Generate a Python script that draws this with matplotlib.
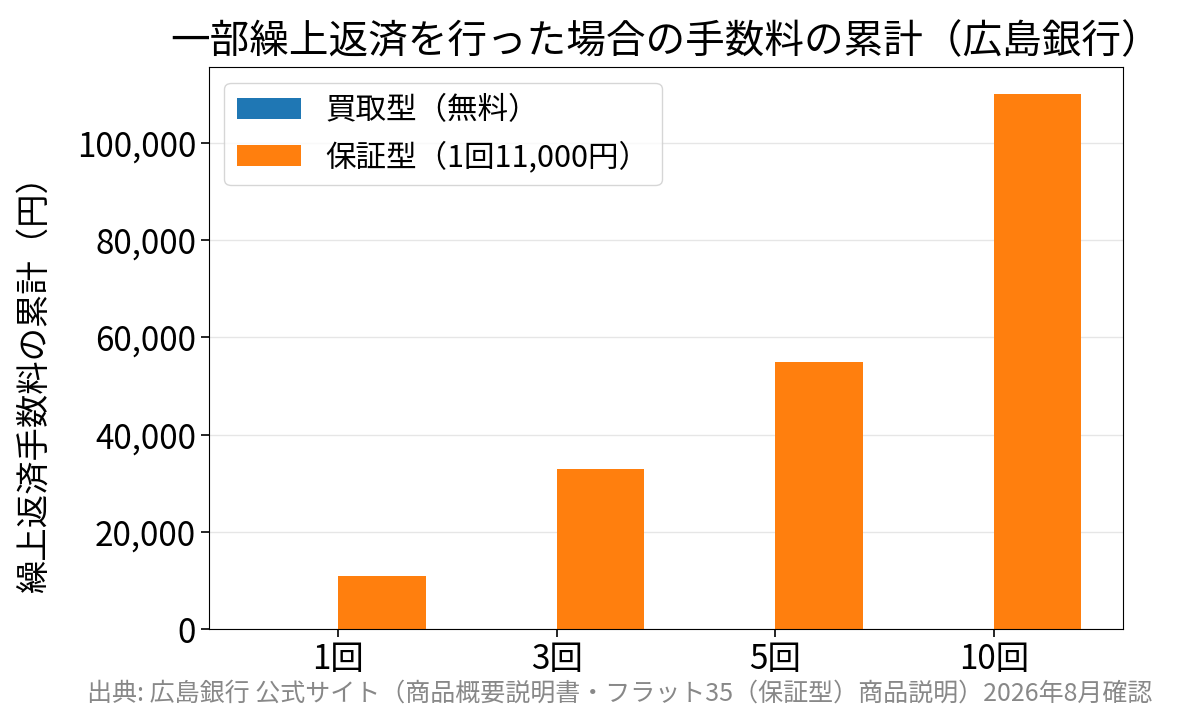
import numpy as np
import matplotlib
matplotlib.use("Agg")
import matplotlib.pyplot as plt
from matplotlib.ticker import FuncFormatter

plt.rcParams['font.family'] = ['Noto Sans CJK JP', 'DejaVu Sans']

# data
categories = ['1回', '3回', '5回', '10回']
kaitori_fee = [0, 0, 0, 0]
hosho_fee = [11000, 33000, 55000, 110000]
legend_labels = ['買取型（無料）', '保証型（1回11,000円）']

x = np.arange(len(categories))
width = 0.4

fig, ax = plt.subplots(figsize=(11.82, 7.25), dpi=100)
ax.bar(x - width / 2, kaitori_fee, width, color='#1f77b4', label=legend_labels[0])
ax.bar(x + width / 2, hosho_fee, width, color='#ff7f0e', label=legend_labels[1])

ax.set_xticks(x)
ax.set_xticklabels(categories)
ax.yaxis.set_major_formatter(FuncFormatter(lambda v, p: f'{int(v):,}'))
ax.tick_params(axis='both', labelsize=24, width=1.2, length=6)
ax.set_ylabel('繰上返済手数料の累計（円）', fontsize=24)
ax.yaxis.set_label_coords(-0.172, 0.45)
ax.set_title('一部繰上返済を行った場合の手数料の累計（広島銀行）', fontsize=28.5, pad=10)
ax.grid(axis='y', color='#e6e6e6', linewidth=1)
ax.set_axisbelow(True)
ax.legend(loc='upper left', fontsize=22, handlelength=2.1)

fig.text(0.524, 0.044, '出典: 広島銀行 公式サイト（商品概要説明書・フラット35（保証型）商品説明）2026年8月確認',
         ha='center', va='center', fontsize=18, color='#888888')

fig.subplots_adjust(left=0.177, right=0.95, top=0.907, bottom=0.132)
fig.savefig('out.png', dpi=100)
